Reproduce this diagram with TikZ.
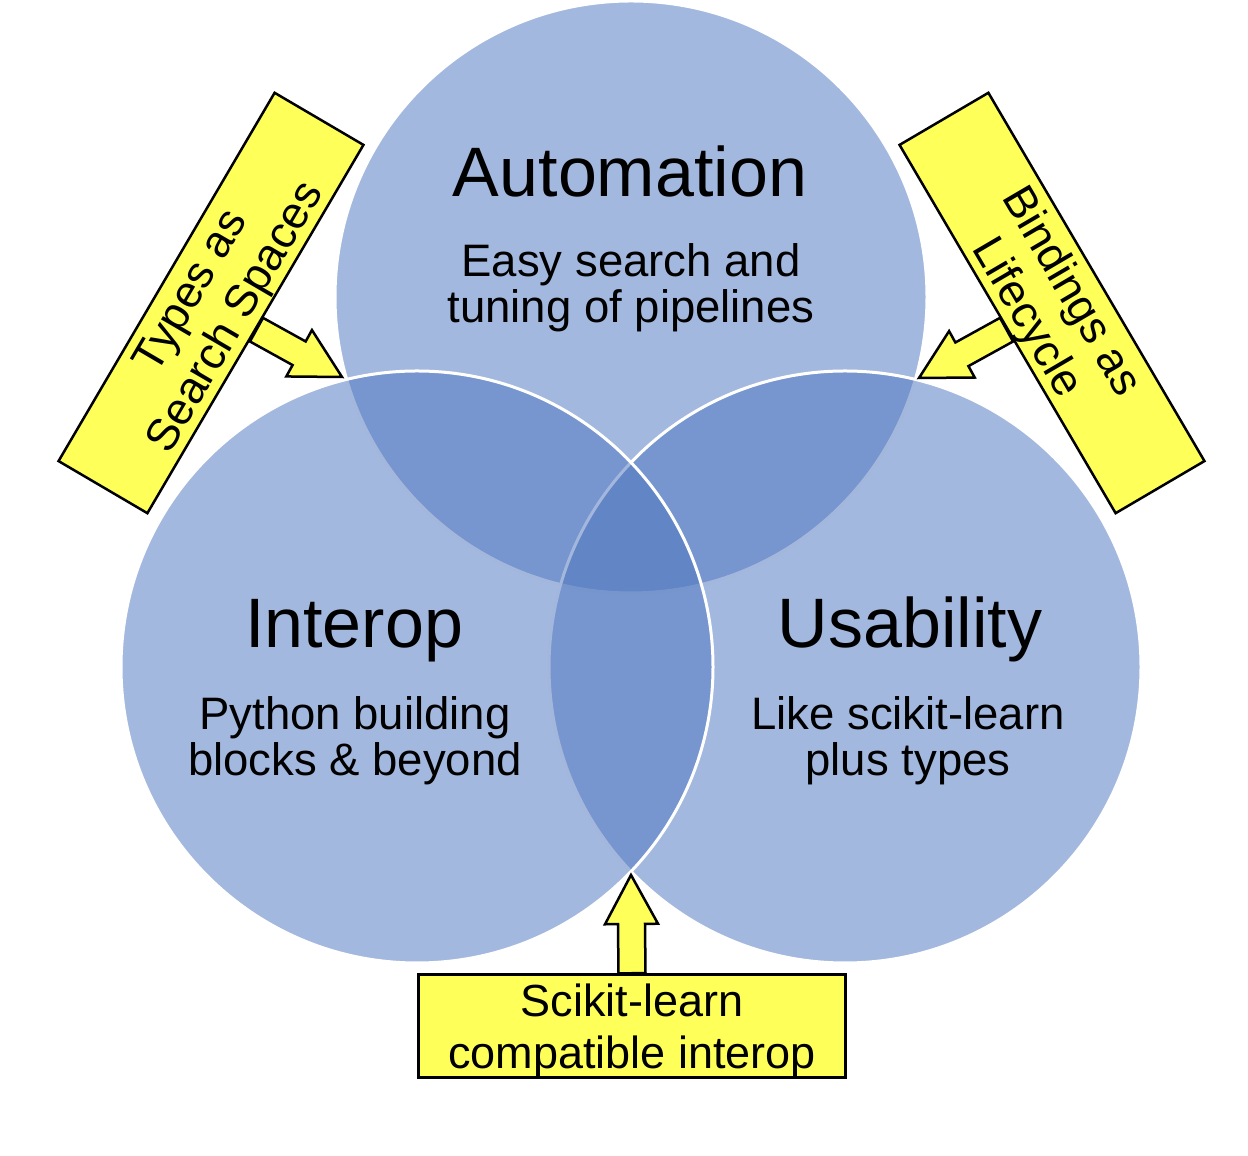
\documentclass[tikz,border=0pt]{standalone}
\usepackage{fontspec}
\setmainfont{Liberation Sans}
\usetikzlibrary{calc}

\definecolor{vennblue}{RGB}{79,118,191}
\definecolor{noteyellow}{RGB}{255,255,89}

\begin{document}
\begin{tikzpicture}[x=1pt,y=1pt]
\tikzset{bubble/.style = {fill=vennblue, fill opacity=0.52, draw=white, line width=3pt}}
\tikzset{headline/.style = {anchor=base, font=\fontsize{70}{80}\selectfont}}
\tikzset{subline/.style = {anchor=base, align=center, font=\fontsize{45.5}{46}\selectfont}}
\tikzset{callout/.style = {draw, fill=noteyellow, line width=2.5pt, align=center, inner sep=0pt,
  minimum width=427pt, minimum height=103pt, text depth=0pt, font=\fontsize{45}{51.5}\selectfont}}
\tikzset{callarrow/.style = {draw, fill=noteyellow, line width=2.5pt, line join=miter,
  to path={($(\tikztostart)!13.5pt!-90:(\tikztotarget)$)
    -- ($(\tikztotarget)!49pt!(\tikztostart)!13.5pt!-90:(\tikztotarget)$)
    -- ($(\tikztotarget)!49pt!(\tikztostart)!26.5pt!-90:(\tikztotarget)$)
    -- (\tikztotarget)
    -- ($(\tikztotarget)!49pt!(\tikztostart)!26.5pt!90:(\tikztotarget)$)
    -- ($(\tikztotarget)!49pt!(\tikztostart)!13.5pt!90:(\tikztotarget)$)
    -- ($(\tikztostart)!13.5pt!90:(\tikztotarget)$) -- cycle}}}

\useasboundingbox (0,0) rectangle (1248,1156);

% the three circles
\path[bubble] (631,859) circle (296);
\path[bubble] (845,489) circle (296);
\path[bubble] (417,489) circle (296);

\node[headline] (auto) at (630,959) {Automation};
\node[subline] (autoSub) at (631,833) {Easy search and\\tuning of pipelines};
\node[headline] (inter) at (354,508) {Interop};
\node[subline] (interSub) at (355,380) {Python building\\blocks \& beyond};
\node[headline] (usab) at (910,508) {Usability};
\node[subline] (usabSub) at (908,380) {Like scikit-learn\\plus types};

% callouts
\node[callout, rotate=59.6] (boxL) at (211,853) {Types as\\Search Spaces};
\node[callout, rotate=-59.6] (boxR) at (1052,853) {Bindings as\\Lifecycle};
\node[callout] (boxB) at (632,130) {Scikit-learn\\compatible interop};

\coordinate (tipL) at (342,779);
\coordinate (tipR) at (919,778);
\coordinate (tipB) at (631,281);

\draw[callarrow] (boxL.south) to (tipL);
\draw[callarrow] (boxR.south) to (tipR);
\draw[callarrow] (boxB.north) to (tipB);
\end{tikzpicture}
\end{document}
